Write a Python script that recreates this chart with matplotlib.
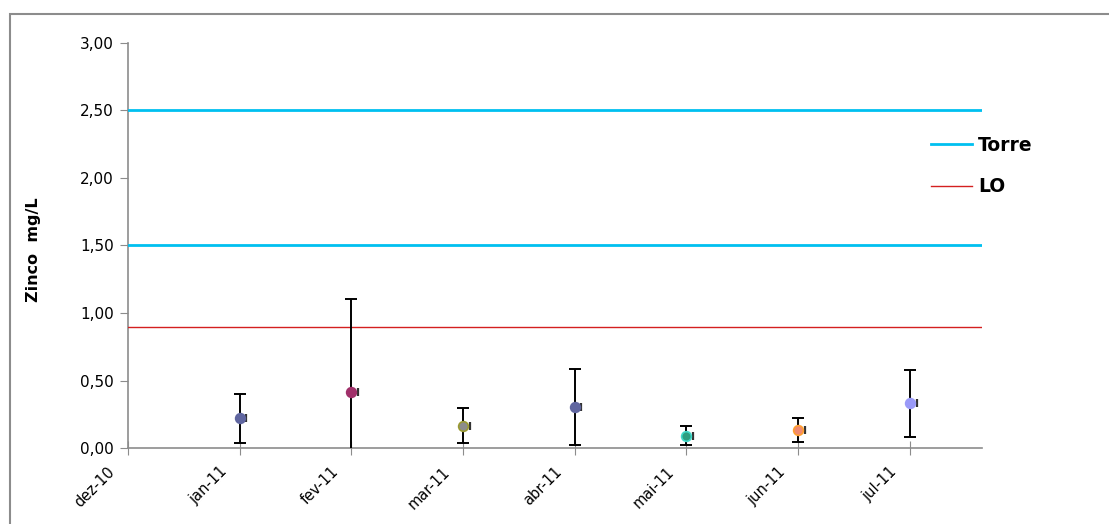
import numpy as np
import matplotlib.pyplot as plt
import matplotlib.transforms as mtransforms
from matplotlib.patches import Rectangle

# meses e valores de zinco (mg/L)
meses = ['dez-10', 'jan-11', 'fev-11', 'mar-11', 'abr-11', 'mai-11', 'jun-11', 'jul-11']
media = [0.22, 0.415, 0.165, 0.305, 0.09, 0.135, 0.33]
desvio = [0.18, 0.69, 0.13, 0.28, 0.07, 0.09, 0.245]
cor_face = ['#6066A0', '#A0306A', '#8C8C8C', '#6066A0', '#2E9E80', '#F08A70', '#9A9AF8']
cor_borda = ['#6066A0', '#A0306A', '#9A9A30', '#6066A0', '#40D8C8', '#FFA030', '#9A9AF8']
torre = [2.5, 1.5]
lo = 0.9

plt.rcParams['font.family'] = 'DejaVu Sans'
fig = plt.figure(figsize=(11.09, 5.24), dpi=100)
ax = fig.add_axes([0.1154, 0.145, 0.770, 0.773])

# moldura externa
fig.patches.append(Rectangle((10/1109, -0.1), 1.2, 1 - 14/524 + 0.1, transform=fig.transFigure,
                             fill=False, edgecolor='#8C8C8C', linewidth=1.5))

x = np.arange(1, len(meses))
for i in range(len(media)):
    ax.errorbar(x[i], media[i], yerr=desvio[i], fmt='none', ecolor='black',
                elinewidth=1.4, capsize=4, capthick=1.4, zorder=3)
    ax.errorbar(x[i], media[i], xerr=[[0], [0.06]], fmt='none', ecolor='#333333',
                elinewidth=1.0, capsize=3, capthick=1.6, zorder=3)
    ax.plot(x[i], media[i], 'o', ms=7, mfc=cor_face[i], mec=cor_borda[i], mew=1.2, zorder=4)

ax.axhline(torre[0], color='#00C0F0', lw=2, label='Torre')
ax.axhline(torre[1], color='#00C0F0', lw=2)
ax.axhline(lo, color='#D42020', lw=1, label='LO')

ax.set_xlim(0, 7.645)
ax.set_ylim(0, 3)
yt = np.arange(0, 3.01, 0.5)
ax.set_yticks(yt)
ax.set_yticklabels([('%.2f' % v).replace('.', ',') for v in yt])
ax.set_xticks(np.arange(len(meses)))
ax.set_xticklabels([])

# rótulos dos meses inclinados, deslocados para baixo/esquerda do tick
desloc = mtransforms.ScaledTranslation(-0.205, -0.16, fig.dpi_scale_trans)
for i, m in enumerate(meses):
    ax.text(i, 0, m, rotation=45, ha='right', va='top', rotation_mode='anchor',
            fontsize=10.5, transform=ax.get_xaxis_transform() + desloc)

for s in ['top', 'right']:
    ax.spines[s].set_visible(False)
for s in ['left', 'bottom']:
    ax.spines[s].set_color('#8C8C8C')
    ax.spines[s].set_linewidth(1.2)
ax.spines['left'].set_zorder(1)

ax.tick_params(axis='y', direction='out', length=6, color='#8C8C8C', labelsize=11, pad=4)
ax.tick_params(axis='x', direction='inout', length=10, color='#8C8C8C')
ax.set_ylabel('Zinco  mg/L', fontsize=11.5, fontweight='bold')
ax.yaxis.set_label_coords(-0.102, 0.489)

handles, labels = ax.get_legend_handles_labels()
fig.legend(handles, labels, loc='center left', bbox_to_anchor=(0.8395, 0.683),
           frameon=False, prop={'weight': 'bold', 'size': 13.5}, handlelength=2.2,
           labelspacing=1.2, handletextpad=0.3, borderpad=0, borderaxespad=0)

fig.savefig('out.png', dpi=100)
